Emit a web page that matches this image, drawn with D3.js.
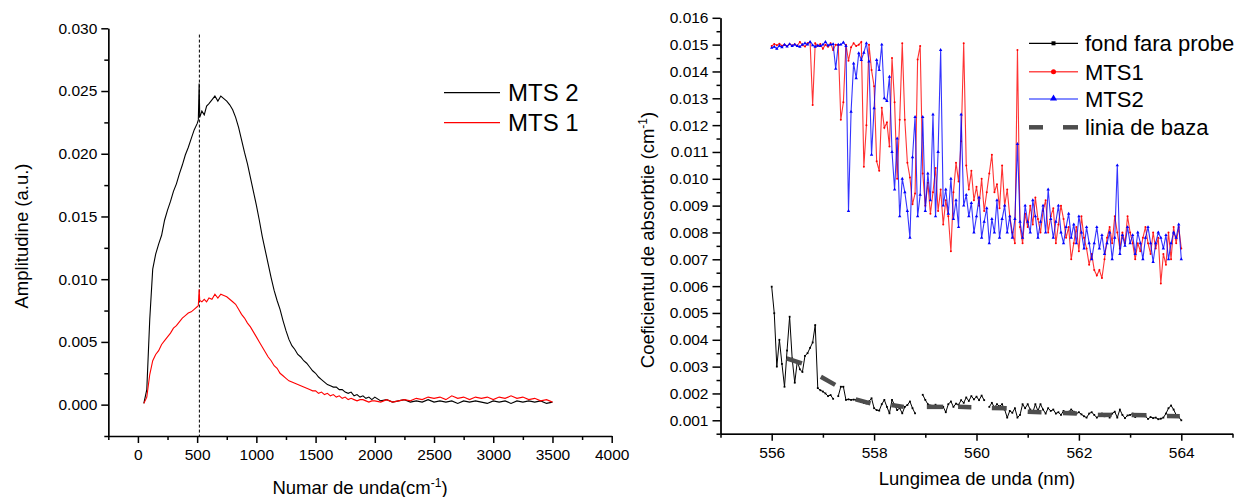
<!DOCTYPE html>
<html>
<head>
<meta charset="utf-8">
<script src="https://cdn.jsdelivr.net/npm/d3@7"></script>
<style>
  body { margin: 0; background: #fff; }
  svg { display: block; }
  text { font-family: Arial, "Liberation Sans", sans-serif; fill: #000; }
</style>
</head>
<body>
<script>
// ---------------- LEFT PANEL DATA ----------------
const leftWavenumber = [50,75,100,125,150,175,200,225,250,275,300,325,350,375,400,425,450,475,500,510,517,522,540,560,580,
  600,625,650,675,700,725,750,775,800,825,850,875,900,925,950,975,1000,1025,1050,1075,1100,1125,1150,1175,1200,1225,1250,1275,1300,
  1325,1350,1375,1400,1425,1450,1475,1500,1525,1550,1575,1600,1625,1650,1675,1700,1725,1750,1775,1800,1825,1850,1875,1900,1925,1950,1975,2000,
  2050,2100,2150,2200,2250,2300,2350,2400,2450,2500,2550,2600,2650,2700,2750,2800,2850,2900,2950,3000,3050,3100,3150,3200,3250,3300,3350,3400,3450,3500];
const mts2Amplitude = [0.0001,0.0012,0.0068,0.0108,0.0120,0.0128,0.0135,0.0147,0.0155,0.0162,0.0170,0.0176,0.0184,0.0191,0.0199,0.0205,0.0212,0.0219,0.0224,0.0227,0.0256,0.0229,0.0234,0.0231,0.0238,
  0.0240,0.0243,0.0246,0.0242,0.0246,0.0244,0.0242,0.0239,0.0235,0.0229,0.0221,0.0211,0.0201,0.0192,0.0181,0.0170,0.0159,0.0147,0.0134,0.0123,0.0112,0.0101,0.0091,0.0083,0.0076,0.0067,0.0059,0.0052,0.0047,
  0.0044,0.0040,0.0038,0.0035,0.0033,0.0030,0.0027,0.0025,0.0022,0.0020,0.0018,0.0016,0.0015,0.0014,0.0014,0.0012,0.0012,0.0010,0.0009,0.0010,0.0007,0.0008,0.0006,0.0007,0.0005,0.0006,0.0004,0.0006,
  0.0003,0.0004,0.0002,0.0003,0.0004,0.0002,0.0003,0.0002,0.0004,0.0002,0.0003,0.0002,0.0003,0.0001,0.0003,0.0002,0.0003,0.0002,0.0001,0.0003,0.0002,0.0003,0.0001,0.0003,0.0002,0.0003,0.0002,0.0003,0.0001,0.0002];
const mts1Amplitude = [0.0001,0.0006,0.0024,0.0035,0.0040,0.0043,0.0048,0.0051,0.0054,0.0057,0.0061,0.0063,0.0066,0.0069,0.0071,0.0073,0.0074,0.0076,0.0078,0.0079,0.0092,0.0083,0.0082,0.0084,0.0082,
  0.0085,0.0084,0.0088,0.0085,0.0088,0.0087,0.0086,0.0084,0.0082,0.0080,0.0076,0.0072,0.0069,0.0065,0.0062,0.0058,0.0054,0.0050,0.0046,0.0042,0.0038,0.0035,0.0031,0.0029,0.0025,0.0023,0.0021,0.0019,0.0018,
  0.0017,0.0016,0.0015,0.0014,0.0013,0.0012,0.0011,0.0011,0.0009,0.0010,0.0008,0.0009,0.0007,0.0008,0.0006,0.0007,0.0005,0.0006,0.0004,0.0005,0.0004,0.0003,0.0004,0.0004,0.0003,0.0002,0.0003,0.0003,
  0.0002,0.0004,0.0002,0.0003,0.0004,0.0003,0.0005,0.0004,0.0006,0.0005,0.0006,0.0004,0.0007,0.0005,0.0006,0.0004,0.0006,0.0005,0.0006,0.0004,0.0006,0.0005,0.0007,0.0005,0.0006,0.0004,0.0005,0.0003,0.0004,0.0002];
const markerWavenumber = 519;
const leftXTicks = [0,500,1000,1500,2000,2500,3000,3500,4000];
const leftXMinor = [-250,250,750,1250,1750,2250,2750,3250,3750];
const leftYTicks = [0.000,0.005,0.010,0.015,0.020,0.025,0.030];
const leftYMinor = [-0.0025,0.0025,0.0075,0.0125,0.0175,0.0225,0.0275];
const leftSeries = ["MTS 2","MTS 1"];

// ---------------- RIGHT PANEL DATA ----------------
const wavelength = [556.00,556.05,556.10,556.15,556.20,556.25,556.30,556.35,556.40,556.45,
  556.50,556.55,556.60,556.65,556.70,556.75,556.80,556.85,556.90,556.95,
  557.00,557.05,557.10,557.15,557.20,557.25,557.30,557.35,557.40,557.45,
  557.50,557.55,557.60,557.65,557.70,557.75,557.80,557.85,557.90,557.95,
  558.00,558.05,558.10,558.15,558.20,558.25,558.30,558.35,558.40,558.45,
  558.50,558.55,558.60,558.65,558.70,558.75,558.80,558.85,558.90,558.95,
  559.00,559.05,559.10,559.15,559.20,559.25,559.30,559.35,559.40,559.45,
  559.50,559.55,559.60,559.65,559.70,559.75,559.80,559.85,559.90,559.95,
  560.00,560.05,560.10,560.15,560.20,560.25,560.30,560.35,560.40,560.45,
  560.50,560.55,560.60,560.65,560.70,560.75,560.80,560.85,560.90,560.95,
  561.00,561.05,561.10,561.15,561.20,561.25,561.30,561.35,561.40,561.45,
  561.50,561.55,561.60,561.65,561.70,561.75,561.80,561.85,561.90,561.95,
  562.00,562.05,562.10,562.15,562.20,562.25,562.30,562.35,562.40,562.45,
  562.50,562.55,562.60,562.65,562.70,562.75,562.80,562.85,562.90,562.95,
  563.00,563.05,563.10,563.15,563.20,563.25,563.30,563.35,563.40,563.45,
  563.50,563.55,563.60,563.65,563.70,563.75,563.80,563.85,563.90,563.95,
  564.00];
const fondFaraProbe = [0.00598,0.00499,0.00300,0.00400,0.00310,0.00225,0.00360,0.00486,0.00330,0.00240,
  0.00320,0.00290,0.00280,0.00340,0.00350,0.00370,0.00390,0.00455,0.00220,0.00212,
  0.00207,0.00200,0.00190,0.00194,0.00180,null,0.00190,0.00225,0.00225,0.00176,
  0.00178,0.00176,0.00177,0.00176,0.00172,0.00168,0.00165,0.00163,0.00170,0.00182,
  0.00145,0.00138,0.00136,0.00160,0.00176,0.00150,0.00126,0.00176,0.00157,0.00138,
  0.00145,0.00126,0.00150,0.00157,0.00170,0.00145,0.00126,null,null,0.00195,
  0.00176,0.00160,0.00155,0.00150,0.00158,0.00148,0.00152,0.00150,0.00130,0.00160,
  0.00170,0.00150,0.00162,0.00158,0.00175,0.00165,0.00185,0.00172,0.00190,0.00178,
  0.00188,0.00175,0.00192,0.00175,null,0.00150,0.00165,0.00148,0.00160,0.00152,
  0.00160,0.00140,0.00110,0.00135,0.00128,0.00145,0.00110,0.00120,0.00160,0.00145,
  0.00160,0.00140,0.00130,0.00160,0.00135,0.00160,0.00140,0.00125,0.00145,0.00135,
  0.00140,0.00125,0.00130,0.00120,0.00135,0.00128,0.00132,0.00140,0.00132,0.00125,
  0.00130,0.00122,0.00115,0.00110,0.00125,0.00130,0.00120,0.00110,0.00118,0.00125,
  0.00115,0.00120,0.00110,0.00125,0.00132,0.00110,0.00140,0.00120,0.00108,0.00118,
  0.00120,0.00125,0.00112,0.00118,0.00122,0.00120,0.00115,0.00105,0.00112,0.00108,
  0.00110,0.00104,0.00106,0.00110,0.00125,0.00145,0.00155,0.00140,0.00120,0.00112,
  0.00100];
const mts1Absorption = [0.01495,0.01502,0.01498,0.01503,0.01496,0.01500,0.01494,0.01502,0.01497,0.01501,
  0.01496,0.01510,0.01498,0.01493,0.01505,0.01510,0.01275,0.01505,0.01495,0.01502,
  0.01485,0.01500,0.01492,0.01505,0.01480,0.01500,0.01498,0.01220,0.01285,0.01500,
  0.01440,0.01490,0.01505,0.01495,0.01500,0.01510,0.01045,0.01200,0.01500,0.01405,
  0.01345,0.01065,0.01030,0.01265,0.01190,0.01210,0.01120,0.01450,0.01285,0.01000,
  0.01220,0.01505,0.01220,0.01060,0.01005,0.00905,0.00945,0.01445,0.01495,0.01020,
  0.00900,0.00985,0.00870,0.00950,0.01040,0.00880,0.00960,0.00830,0.00920,0.00860,
  0.00730,0.00950,0.01060,0.00990,0.01140,0.01505,0.01050,0.00960,0.01030,0.00920,
  0.00970,0.00900,0.01000,0.00880,0.00950,0.01020,0.01090,0.00950,0.00980,0.00890,
  0.01050,0.00900,0.00960,0.00860,0.00800,0.00760,0.01480,0.00820,0.00760,0.00870,
  0.00820,0.00900,0.00830,0.00930,0.00850,0.00800,0.00880,0.00920,0.00800,0.00860,
  0.00890,0.00760,0.00830,0.00900,0.00850,0.00780,0.00820,0.00700,0.00760,0.00820,
  0.00730,0.00860,0.00780,0.00740,0.00680,0.00720,0.00660,0.00640,0.00660,0.00630,
  0.00700,0.00780,0.00820,0.00760,0.00860,0.00800,0.00740,0.00800,0.00760,0.00860,
  0.00800,0.00760,0.00700,0.00760,0.00730,0.00780,0.00820,0.00760,0.00720,0.00800,
  0.00740,0.00780,0.00610,0.00720,0.00680,0.00800,0.00700,0.00820,0.00760,0.00820,
  0.00740];
const mts2Absorption = [0.01488,0.01492,0.01485,0.01496,0.01490,0.01500,0.01493,0.01502,0.01495,0.01500,
  0.01495,0.01492,0.01500,0.01505,0.01500,0.01510,0.01498,0.01492,0.01497,0.01495,
  0.01500,0.01510,0.01497,0.01500,0.01502,0.01410,0.01500,0.01500,0.01508,0.01495,
  0.00880,0.01250,0.01430,0.01375,0.01468,0.01443,0.01470,0.01505,0.01437,0.01090,
  0.01263,0.01443,0.01405,0.01500,0.01300,0.01290,0.01380,0.01100,0.00960,0.01150,
  0.00860,0.01000,0.00950,0.00880,0.00780,0.01080,0.01230,0.00860,0.00940,0.01230,
  0.00880,0.01020,0.00920,0.01240,0.00860,0.01100,0.01480,0.00900,0.00960,0.00870,
  0.01000,0.00850,0.00920,0.00820,0.01240,0.00900,0.00940,0.00860,0.00910,0.00800,
  0.00860,0.00930,0.00780,0.00840,0.00890,0.00760,0.00850,0.00800,0.00920,0.00780,
  0.00850,0.00900,0.00800,0.00860,0.00780,0.00850,0.01130,0.00840,0.00780,0.00900,
  0.00840,0.00800,0.00920,0.00860,0.00780,0.00840,0.00900,0.00800,0.00960,0.00850,
  0.00780,0.00840,0.00900,0.00800,0.00760,0.00820,0.00870,0.00780,0.00830,0.00760,
  0.00860,0.00800,0.00740,0.00820,0.00760,0.00700,0.00760,0.00820,0.00740,0.00790,
  0.00720,0.00760,0.00800,0.00700,0.00780,0.01050,0.00720,0.00790,0.00750,0.00820,
  0.00760,0.00790,0.00720,0.00800,0.00760,0.00700,0.00780,0.00820,0.00760,0.00690,
  0.00760,0.00800,0.00780,0.00740,0.00790,0.00700,0.00760,0.00800,0.00780,0.00830,
  0.00700];
// baseline ("linia de baza") dash segments: start/end wavelength and value pairs
const baselineWavelength = [556.29,556.59, 556.96,557.24, 557.64,557.93, 558.34,558.58, 559.03,559.35, 559.64,559.90, 560.30,560.59, 561.00,561.27, 561.69,561.96, 562.37,562.64, 563.03,563.32, 563.72,563.97];
const baselineValue      = [0.00331,0.00312, 0.00262,0.00232, 0.00178,0.00163, 0.00157,0.00150, 0.00150,0.00150, 0.00150,0.00149, 0.00146,0.00145, 0.00132,0.00130, 0.00127,0.00125, 0.00120,0.00120, 0.00120,0.00119, 0.00116,0.00115];
const rightXTicks = [556,558,560,562,564];
const rightXMinor = [555,557,559,561,563,565];
const rightYTicks = [0.001,0.002,0.003,0.004,0.005,0.006,0.007,0.008,0.009,0.010,0.011,0.012,0.013,0.014,0.015,0.016];
const rightYMinor = [0.0005,0.0015,0.0025,0.0035,0.0045,0.0055,0.0065,0.0075,0.0085,0.0095,0.0105,0.0115,0.0125,0.0135,0.0145,0.0155];
const rightSeries = ["fond fara probe","MTS1","MTS2","linia de baza"];

// ---------------- DRAWING ----------------
const svg = d3.select("body").append("svg").attr("width",1240).attr("height",497);
svg.append("rect").attr("width",1240).attr("height",497).attr("fill","#fff");

const TICK_FONT = "15.5px";
const TITLE_FONT = "18.5px";

function styleAxis(g) {
  g.select(".domain").attr("stroke","#000").attr("stroke-width",1.5);
  g.selectAll(".tick line").attr("stroke","#000").attr("stroke-width",1.5);
  g.selectAll(".tick text").style("font-size",TICK_FONT).attr("fill","#000")
    .style("font-family","Arial, 'Liberation Sans', sans-serif");
}

// ---- Left panel
const xL = d3.scaleLinear().domain([-250,4000]).range([108.3,611.7]);
const yL = d3.scaleLinear().domain([-0.0025,0.030]).range([436,28.3]);

const gLx = svg.append("g").attr("transform",`translate(0,${yL(-0.0025)})`);
gLx.call(d3.axisBottom(xL).tickValues(leftXMinor).tickSize(4).tickSizeOuter(0).tickFormat(""));
gLx.append("g").call(d3.axisBottom(xL).tickValues(leftXTicks).tickSize(7).tickSizeOuter(0).tickPadding(6).tickFormat(d3.format("d")));
styleAxis(gLx);
gLx.selectAll("g > .domain").filter((d,i)=>i>0).remove();

const gLy = svg.append("g").attr("transform",`translate(${xL(-250)},0)`);
gLy.call(d3.axisLeft(yL).tickValues(leftYMinor).tickSize(4).tickSizeOuter(0).tickFormat(""));
gLy.append("g").call(d3.axisLeft(yL).tickValues(leftYTicks).tickSize(7).tickSizeOuter(0).tickPadding(4).tickFormat(d3.format(".3f")));
styleAxis(gLy);

// dotted vertical marker
svg.append("line")
  .attr("x1",xL(markerWavenumber)).attr("x2",xL(markerWavenumber))
  .attr("y1",yL(0.0295)).attr("y2",yL(-0.0025))
  .attr("stroke","#000").attr("stroke-width",1).attr("stroke-dasharray","3,2");

const leftData2 = leftWavenumber.map((x,i)=>({x, y: mts2Amplitude[i]}));
const leftData1 = leftWavenumber.map((x,i)=>({x, y: mts1Amplitude[i]}));
const lineL = d3.line().x(d=>xL(d.x)).y(d=>yL(d.y));
svg.append("path").datum(leftData2).attr("d",lineL).attr("fill","none").attr("stroke","#000").attr("stroke-width",1.1);
svg.append("path").datum(leftData1).attr("d",lineL).attr("fill","none").attr("stroke","#ff0000").attr("stroke-width",1.1);

// Left legend
const legL = svg.append("g");
[["#000",92.7],["#ff0000",122.7]].forEach(([c,y],i)=>{
  legL.append("line").attr("x1",444).attr("x2",500).attr("y1",y).attr("y2",y).attr("stroke",c).attr("stroke-width",1.2);
  legL.append("text").attr("x",508).attr("y",y).attr("dy","0.36em").style("font-size","24px").text(leftSeries[i]);
});

// Left titles
const tLx = svg.append("text").attr("x",360).attr("y",494).attr("text-anchor","middle").style("font-size",TITLE_FONT);
tLx.append("tspan").text("Numar de unda(cm");
tLx.append("tspan").attr("dy",-7).style("font-size","12px").text("-1");
tLx.append("tspan").attr("dy",7).text(")");
svg.append("text").attr("transform","translate(28,236) rotate(-90)").attr("text-anchor","middle")
  .style("font-size",TITLE_FONT).text("Amplitudine (a.u.)");

// ---- Right panel
const xR = d3.scaleLinear().domain([555,565]).range([720.5,1232.5]);
const yR = d3.scaleLinear().domain([0.0005,0.016]).range([433.7,17.8]);

const gRx = svg.append("g").attr("transform",`translate(0,${yR(0.0005)})`);
gRx.call(d3.axisBottom(xR).tickValues(rightXMinor).tickSize(4).tickSizeOuter(0).tickFormat(""));
gRx.append("g").call(d3.axisBottom(xR).tickValues(rightXTicks).tickSize(7).tickSizeOuter(0).tickPadding(6).tickFormat(d3.format("d")));
styleAxis(gRx);

const gRy = svg.append("g").attr("transform",`translate(${xR(555)},0)`);
gRy.call(d3.axisLeft(yR).tickValues(rightYMinor).tickSize(4).tickSizeOuter(0).tickFormat(""));
gRy.append("g").call(d3.axisLeft(yR).tickValues(rightYTicks).tickSize(8).tickSizeOuter(0).tickPadding(4).tickFormat(d3.format(".3f")));
styleAxis(gRy);

const fondData = wavelength.map((x,i)=>({x, y: fondFaraProbe[i]}));
const m1Data = wavelength.map((x,i)=>({x, y: mts1Absorption[i]}));
const m2Data = wavelength.map((x,i)=>({x, y: mts2Absorption[i]}));
const lineR = d3.line().defined(d=>d.y!=null).x(d=>xR(d.x)).y(d=>yR(d.y));

svg.append("path").datum(fondData).attr("d",lineR).attr("fill","none").attr("stroke","#000").attr("stroke-width",1);
svg.append("g").selectAll("rect").data(fondData.filter(d=>d.y!=null)).join("rect")
  .attr("x",d=>xR(d.x)-0.9).attr("y",d=>yR(d.y)-0.9).attr("width",1.8).attr("height",1.8).attr("fill","#000");

svg.append("path").datum(m1Data).attr("d",lineR).attr("fill","none").attr("stroke","#ff0000").attr("stroke-opacity",0.8).attr("stroke-width",1.1);
svg.append("g").selectAll("circle").data(m1Data).join("circle")
  .attr("cx",d=>xR(d.x)).attr("cy",d=>yR(d.y)).attr("r",1).attr("fill","#ff0000");

svg.append("path").datum(m2Data).attr("d",lineR).attr("fill","none").attr("stroke","#0000ff").attr("stroke-opacity",0.8).attr("stroke-width",1.1);
const tri = d3.symbol().type(d3.symbolTriangle).size(5);
svg.append("g").selectAll("path").data(m2Data).join("path")
  .attr("transform",d=>`translate(${xR(d.x)},${yR(d.y)})`).attr("d",tri).attr("fill","#0000ff");

// baseline dashes
const baseSegs = [];
for (let i=0;i<baselineWavelength.length;i+=2) {
  baseSegs.push([{x:baselineWavelength[i],y:baselineValue[i]},{x:baselineWavelength[i+1],y:baselineValue[i+1]}]);
}
svg.append("g").selectAll("path").data(baseSegs).join("path")
  .attr("d",d3.line().x(d=>xR(d.x)).y(d=>yR(d.y)))
  .attr("fill","none").attr("stroke","#4d4d4d").attr("stroke-width",4.5);

// Right legend
const legR = svg.append("g");
const legY = [43.3,71.7,99,127.3];
legR.append("line").attr("x1",1029).attr("x2",1078).attr("y1",legY[0]).attr("y2",legY[0]).attr("stroke","#000").attr("stroke-width",1.2);
legR.append("rect").attr("x",1051.5).attr("y",legY[0]-2).attr("width",4).attr("height",4).attr("fill","#000");
legR.append("line").attr("x1",1029).attr("x2",1078).attr("y1",legY[1]).attr("y2",legY[1]).attr("stroke","#ff4d4d").attr("stroke-width",1.5);
legR.append("circle").attr("cx",1053.5).attr("cy",legY[1]).attr("r",2.5).attr("fill","#ff0000");
legR.append("line").attr("x1",1029).attr("x2",1078).attr("y1",legY[2]).attr("y2",legY[2]).attr("stroke","#5a66ff").attr("stroke-width",1.5);
legR.append("path").attr("transform",`translate(1053.5,${legY[2]-0.5})`).attr("d",d3.symbol().type(d3.symbolTriangle).size(22)).attr("fill","#0000ff");
legR.append("line").attr("x1",1029).attr("x2",1043).attr("y1",legY[3]).attr("y2",legY[3]).attr("stroke","#4d4d4d").attr("stroke-width",4.5);
legR.append("line").attr("x1",1063).attr("x2",1078).attr("y1",legY[3]).attr("y2",legY[3]).attr("stroke","#4d4d4d").attr("stroke-width",4.5);
rightSeries.forEach((s,i)=>{
  legR.append("text").attr("x",1085).attr("y",legY[i]).attr("dy","0.36em").style("font-size","22px").text(s);
});

// Right titles
svg.append("text").attr("x",977).attr("y",485).attr("text-anchor","middle").style("font-size",TITLE_FONT).text("Lungimea de unda (nm)");
const tRy = svg.append("text").attr("transform","translate(654,240) rotate(-90)").attr("text-anchor","middle").style("font-size",TITLE_FONT);
tRy.append("tspan").text("Coeficientul de absorbtie (cm");
tRy.append("tspan").attr("dy",-7).style("font-size","12px").text("-1");
tRy.append("tspan").attr("dy",7).text(")");
</script>
</body>
</html>
